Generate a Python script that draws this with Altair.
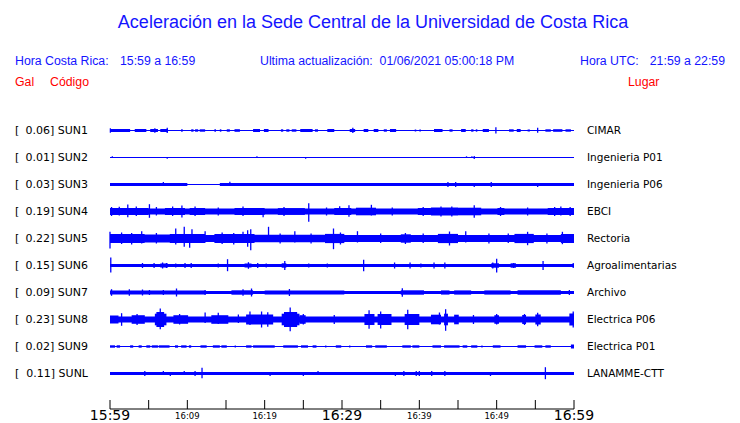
import altair as alt
import pandas as pd

# ---------------- data ----------------
stations = ["SUN1", "SUN2", "SUN3", "SUN4", "SUN5", "SUN6", "SUN7", "SUN8", "SUN9", "SUNL"]
peak_gal = [0.06, 0.01, 0.03, 0.19, 0.22, 0.15, 0.09, 0.23, 0.02, 0.11]
places = ["CIMAR", "Ingenieria P01", "Ingenieria P06", "EBCI", "Rectoria",
          "Agroalimentarias", "Archivo", "Electrica P06", "Electrica P01", "LANAMME-CTT"]

# background (quiet) half-amplitude of each trace, in trace units
base_amp = [0.6, 0.6, 0.4, 2.9, 3.4, 1.5, 1.6, 3.1, 0.6, 1.5]

# bursts: (start minute, end minute, half-amplitude)
bursts_sun1 = [(0.1, 2.6, 1.5), (3.2, 4.7, 1.5), (5.2, 6.2, 1.5), (6.5, 7.5, 1.5), (9.2, 9.4, 1.2),
               (10.5, 10.8, 1.2), (11.0, 11.4, 1.2), (11.6, 12.3, 1.2), (13.5, 13.7, 1.2), (14.2, 14.4, 1.2),
               (15.1, 15.5, 1.2), (16.1, 16.8, 1.3), (18.5, 19.4, 1.5), (19.9, 20.5, 1.5), (22.1, 22.4, 1.2),
               (22.8, 23.2, 1.2), (23.5, 24.1, 1.2), (24.6, 26.2, 1.5), (26.5, 26.9, 1.2), (28.1, 29.0, 1.5),
               (31.0, 31.7, 1.5), (32.8, 33.4, 1.5), (34.1, 34.7, 1.5), (35.4, 35.8, 1.2), (36.2, 37.0, 1.5),
               (39.4, 39.6, 1.0), (40.0, 40.2, 1.0), (41.9, 43.0, 1.5), (43.9, 44.3, 1.2), (45.4, 46.0, 1.5),
               (46.7, 47.0, 1.2), (47.3, 47.5, 1.2), (48.2, 49.0, 1.5), (51.6, 52.2, 1.2), (52.6, 53.1, 1.5),
               (54.0, 54.3, 1.0), (56.3, 57.0, 1.2), (57.3, 58.5, 1.3), (58.9, 59.6, 1.2)]
bursts_sun2 = []
bursts_sun3 = [(0.0, 10.0, 1.5), (14.2, 60.0, 1.5)]
bursts_sun4 = [(0.0, 5.0, 3.6), (7.1, 9.7, 3.6), (10.3, 12.3, 3.5), (16.1, 20.0, 3.5), (21.7, 25.2, 3.4),
               (29.0, 31.2, 3.5), (31.8, 34.4, 3.8), (39.8, 41.5, 3.5), (41.5, 45.0, 4.0), (45.0, 48.0, 3.8),
               (50.1, 51.0, 3.5), (56.6, 60.0, 3.5)]
bursts_sun5 = [(0.0, 4.5, 4.6), (4.5, 7.7, 4.0), (7.7, 12.3, 4.6), (13.5, 18.7, 4.4), (18.7, 27.8, 3.8),
               (27.8, 30.3, 4.6), (37.6, 38.9, 4.2), (42.4, 45.0, 4.6), (52.3, 54.8, 4.6), (58.3, 60.0, 4.5)]
bursts_sun6 = [(6.5, 7.5, 2.0), (17.4, 18.3, 2.0), (22.2, 22.8, 2.2), (49.3, 50.3, 2.2), (51.8, 52.5, 2.2)]
bursts_sun7 = [(0.0, 12.3, 2.1), (15.7, 18.5, 2.2), (20.0, 30.3, 2.1), (37.6, 40.6, 2.2), (42.8, 43.9, 2.1),
               (44.5, 46.7, 2.1), (48.4, 51.8, 2.1), (52.7, 58.3, 2.2)]
bursts_sun8 = [(0.0, 1.1, 4.0), (2.8, 4.5, 4.3), (5.8, 7.3, 5.8), (6.0, 7.0, 7.5), (8.2, 10.1, 4.3),
               (13.1, 15.3, 4.3), (17.6, 21.1, 5.0), (22.2, 24.5, 5.8), (22.5, 24.2, 7.5), (24.5, 25.3, 4.3),
               (32.9, 34.2, 5.5), (34.6, 36.4, 5.5), (38.1, 40.0, 5.5), (41.5, 42.8, 4.8), (43.2, 43.7, 5.8),
               (44.5, 45.1, 4.8), (49.7, 50.3, 4.3), (53.3, 53.8, 4.5), (55.0, 55.7, 5.0), (59.4, 60.0, 6.0)]
bursts_sun9 = [(0.0, 0.65, 1.2), (0.86, 1.3, 1.2), (2.6, 3.0, 1.2), (3.7, 4.1, 1.2), (4.7, 5.2, 1.2),
               (5.4, 6.2, 1.2), (6.3, 7.7, 1.2), (8.4, 8.8, 1.2), (9.2, 9.9, 1.2), (10.2, 10.5, 1.2),
               (11.7, 12.5, 1.2), (13.3, 14.2, 1.2), (14.4, 15.1, 1.2), (17.6, 18.3, 1.2), (18.5, 21.3, 1.2),
               (22.4, 24.3, 1.2), (24.7, 25.6, 1.2), (26.2, 26.7, 1.2), (29.2, 29.9, 1.2), (33.1, 33.9, 1.2),
               (34.3, 35.8, 1.2), (37.8, 38.9, 1.2), (39.1, 40.0, 1.2), (41.7, 42.8, 1.2), (43.2, 45.2, 1.2),
               (45.6, 46.2, 1.2), (46.7, 47.5, 1.2), (49.5, 50.5, 1.2), (52.7, 53.8, 1.2), (54.9, 55.9, 1.2),
               (56.3, 57.0, 1.2), (59.6, 60.0, 2.0)]
bursts_sunl = []

# spikes: (minute, amplitude above, amplitude below)
spikes_sun1 = [(0.05, 2.2, 2.2), (5.8, 2.2, 2.2), (7.4, 2.7, 2.5), (31.4, 2.7, 2.5), (49.9, 3.3, 3.0),
               (55.3, 2.7, 2.3)]
spikes_sun2 = [(0.3, 1.2, 0.0), (7.4, 0.0, 1.2), (19.0, 1.2, 0.0), (25.3, 0.0, 1.2), (46.1, 1.2, 0.0),
               (46.8, 1.2, 0.0), (47.1, 1.5, 1.5)]
spikes_sun3 = [(6.9, 2.5, 0.0), (15.5, 2.7, 0.0), (43.7, 2.5, 2.5), (44.7, 2.5, 2.5), (47.1, 0.0, 2.5),
               (49.3, 2.5, 2.5), (55.3, 0.0, 2.5)]
spikes_sun4 = [(0.2, 4.5, 4.5), (1.2, 4.8, 4.0), (2.3, 7.0, 5.7), (3.4, 5.0, 4.5), (5.1, 7.3, 6.3),
               (6.0, 4.5, 4.0), (8.1, 5.0, 4.5), (9.3, 6.0, 6.0), (11.0, 5.0, 4.5), (14.0, 4.0, 4.0),
               (17.2, 5.0, 4.5), (19.8, 3.5, 5.7), (22.5, 4.5, 4.5), (25.7, 8.3, 10.3), (28.0, 4.0, 4.0),
               (29.7, 5.3, 3.5), (30.9, 6.3, 5.3), (33.8, 6.7, 4.0), (36.5, 4.0, 4.0), (40.5, 4.5, 4.5),
               (42.8, 5.0, 5.0), (44.2, 5.0, 5.0), (47.1, 6.3, 6.3), (50.5, 4.5, 4.5), (54.0, 4.0, 4.0),
               (57.5, 4.5, 4.5), (58.3, 5.0, 4.0), (59.5, 4.5, 4.5)]
spikes_sun5 = [(0.0, 6.7, 10.0), (1.5, 6.0, 5.5), (2.8, 5.5, 6.0), (4.1, 7.3, 5.0), (6.0, 5.5, 5.0),
               (8.5, 10.0, 6.0), (9.6, 11.7, 8.3), (10.3, 3.0, 9.3), (10.6, 9.3, 3.0), (12.3, 7.3, 4.0),
               (14.5, 6.0, 5.5), (16.0, 5.5, 6.0), (17.2, 6.7, 4.0), (17.8, 8.3, 8.3), (18.2, 9.3, 11.7),
               (20.5, 11.7, 3.5), (22.0, 5.0, 5.0), (23.9, 7.3, 4.0), (26.0, 5.0, 5.0), (28.9, 10.0, 10.7),
               (29.8, 6.0, 6.0), (32.0, 7.3, 4.0), (35.0, 5.0, 4.5), (38.2, 5.5, 5.5), (40.5, 5.0, 4.5),
               (43.9, 7.0, 7.0), (46.0, 7.3, 4.0), (49.0, 5.0, 5.0), (51.5, 5.0, 4.5), (54.0, 6.7, 6.7),
               (56.5, 5.0, 5.0), (58.5, 6.7, 5.7)]
spikes_sun6 = [(0.1, 8.0, 7.0), (4.2, 2.5, 2.5), (5.7, 2.5, 2.5), (6.8, 3.0, 3.0), (7.3, 2.5, 2.5),
               (8.5, 2.0, 2.0), (9.7, 2.5, 2.5), (10.5, 2.5, 2.5), (14.0, 2.0, 2.0), (15.2, 6.3, 5.7),
               (17.9, 3.3, 3.3), (19.1, 2.5, 2.5), (20.2, 2.0, 2.0), (22.6, 4.5, 4.5), (25.7, 2.0, 2.0),
               (28.1, 2.0, 2.0), (32.8, 5.7, 5.7), (36.8, 3.0, 3.0), (38.8, 3.0, 3.0), (40.2, 2.0, 2.0),
               (41.9, 3.0, 3.0), (43.3, 3.0, 3.0), (49.5, 3.0, 3.0), (50.0, 6.7, 7.0), (52.2, 2.5, 2.5),
               (56.0, 4.5, 4.5), (59.9, 2.5, 2.5)]
spikes_sun7 = [(0.2, 3.3, 3.3), (2.5, 3.3, 3.3), (4.2, 3.0, 3.0), (5.1, 2.5, 2.5), (6.9, 2.5, 2.5),
               (8.6, 4.0, 4.0), (12.3, 2.5, 2.5), (17.2, 3.3, 3.3), (18.3, 4.0, 4.0), (23.2, 3.5, 3.5),
               (37.8, 4.3, 4.3), (59.4, 2.5, 2.5)]
spikes_sun8 = [(1.5, 6.3, 6.3), (3.5, 5.5, 5.5), (6.5, 11.0, 9.7), (9.0, 5.5, 5.0), (12.3, 7.0, 3.5),
               (14.0, 6.7, 4.5), (16.6, 5.0, 3.5), (18.1, 8.0, 5.5), (19.6, 8.0, 8.0), (20.4, 7.3, 7.3),
               (23.3, 12.0, 11.7), (25.0, 5.5, 5.0), (29.0, 4.5, 4.5), (33.5, 9.3, 9.3), (35.0, 8.0, 9.0),
               (38.5, 9.7, 9.7), (42.6, 7.0, 5.0), (43.4, 10.3, 11.3), (47.0, 4.5, 4.5), (50.0, 5.5, 5.0),
               (53.6, 5.5, 5.5), (55.3, 6.7, 6.7), (59.9, 8.0, 8.0)]
spikes_sun9 = [(16.2, 1.0, 1.0), (27.9, 1.0, 1.0), (31.0, 1.0, 1.0), (48.1, 1.0, 1.0)]
spikes_sunl = [(4.5, 2.5, 2.5), (6.9, 2.5, 0.0), (7.8, 0.0, 2.5), (9.6, 2.5, 0.0), (11.0, 2.5, 2.5),
               (11.9, 5.7, 4.7), (20.7, 0.0, 2.5), (25.0, 0.0, 2.5), (26.9, 2.5, 0.0), (36.9, 0.0, 2.5),
               (38.0, 2.5, 2.5), (39.6, 2.5, 2.5), (40.0, 2.5, 2.5), (41.6, 2.5, 2.5), (43.3, 2.5, 2.5),
               (49.2, 0.0, 2.5), (56.3, 6.3, 5.7)]

tick_minutes = list(range(0, 61, 5))
big_label_minutes = [0, 30, 60]
big_labels = ["15:59", "16:29", "16:59"]
small_label_minutes = [10, 20, 40, 50]
small_labels = ["16:09", "16:19", "16:39", "16:49"]

all_bursts = [bursts_sun1, bursts_sun2, bursts_sun3, bursts_sun4, bursts_sun5,
              bursts_sun6, bursts_sun7, bursts_sun8, bursts_sun9, bursts_sunl]
all_spikes = [spikes_sun1, spikes_sun2, spikes_sun3, spikes_sun4, spikes_sun5,
              spikes_sun6, spikes_sun7, spikes_sun8, spikes_sun9, spikes_sunl]

# ---------------- tables ----------------
ROW_UNITS = 27.0  # trace units per row spacing
rect_rows = []
spike_rows = []
for i, st in enumerate(stations):
    rect_rows.append(dict(row=i, t0=0.0, t1=60.0, ya=i - base_amp[i] / ROW_UNITS, yb=i + base_amp[i] / ROW_UNITS))
    for a, b, h in all_bursts[i]:
        rect_rows.append(dict(row=i, t0=a, t1=b, ya=i - h / ROW_UNITS, yb=i + h / ROW_UNITS))
    for t, u, d in all_spikes[i]:
        spike_rows.append(dict(row=i, t=t, ya=i - u / ROW_UNITS, yb=i + d / ROW_UNITS))
rect_df = pd.DataFrame(rect_rows)
spike_df = pd.DataFrame(spike_rows)

NB = "\u00a0"
st_df = pd.DataFrame({
    "row": list(range(len(stations))),
    "br": ["["] * len(stations),
    "left": [f"{g:.2f}]{NB}{s}" for g, s in zip(peak_gal, stations)],
    "place": places,
})
tick_df = pd.DataFrame({"t": tick_minutes})
axis_df = pd.DataFrame({"t0": [min(tick_minutes)], "t1": [max(tick_minutes)]})
big_df = pd.DataFrame({"t": big_label_minutes, "label": big_labels})
small_df = pd.DataFrame({"t": small_label_minutes, "label": small_labels})

# ---------------- scales / layout ----------------
XS = alt.Scale(domain=[0, 60], range=[102, 566], nice=False, zero=False)
YS = alt.Scale(domain=[0, 9], range=[122.5, 365.5], nice=False, zero=False)
BLUE = "#0000ff"
TXT_BLUE = "#1414ff"
RED = "#ff0000"
HFONT = "Liberation Sans"
LFONT = "DejaVu Sans"

rects = alt.Chart(rect_df).mark_rect(color=BLUE).encode(
    x=alt.X("t0:Q", scale=XS, axis=None), x2="t1:Q",
    y=alt.Y("ya:Q", scale=YS, axis=None), y2="yb:Q")

spikes = alt.Chart(spike_df).mark_rule(color=BLUE, strokeWidth=1.3).encode(
    x=alt.X("t:Q", scale=XS, axis=None),
    y=alt.Y("ya:Q", scale=YS, axis=None), y2="yb:Q")

bracket = alt.Chart(st_df).mark_text(align="left", baseline="middle", font=LFONT,
                                     fontSize=11, color="black").encode(
    x=alt.value(7), y=alt.Y("row:Q", scale=YS, axis=None), text="br:N")
left_lab = alt.Chart(st_df).mark_text(align="right", baseline="middle", font=LFONT,
                                      fontSize=11, color="black").encode(
    x=alt.value(80), y=alt.Y("row:Q", scale=YS, axis=None), text="left:N")
right_lab = alt.Chart(st_df).mark_text(align="left", baseline="middle", font=LFONT,
                                       fontSize=10.5, color="black").encode(
    x=alt.value(579), y=alt.Y("row:Q", scale=YS, axis=None), text="place:N")

axis_line = alt.Chart(axis_df).mark_rule(color="black", strokeWidth=1).encode(
    x=alt.X("t0:Q", scale=XS, axis=None), x2="t1:Q", y=alt.value(401))
ticks = alt.Chart(tick_df).mark_rule(color="black", strokeWidth=1).encode(
    x=alt.X("t:Q", scale=XS, axis=None), y=alt.value(392), y2=alt.value(401))
big_lab = alt.Chart(big_df).mark_text(
    baseline="middle", font=LFONT, fontSize=14, color="black").encode(
    x=alt.X("t:Q", scale=XS, axis=None), y=alt.value(408), text="label:N")
small_lab = alt.Chart(small_df).mark_text(
    baseline="middle", font=LFONT, fontSize=8.5, color="black").encode(
    x=alt.X("t:Q", scale=XS, axis=None), y=alt.value(407.5), text="label:N")


def header(txt, x, y, size=12.3, color=TXT_BLUE, align="left"):
    return alt.Chart(pd.DataFrame({"s": [txt]})).mark_text(
        align=align, baseline="middle", font=HFONT, fontSize=size, color=color).encode(
        x=alt.value(x), y=alt.value(y), text="s:N")


headers = [
    header("Aceleración en la Sede Central de la Universidad de Costa Rica", 365, 15, size=18, align="center"),
    header("Hora Costa Rica:", 7, 53),
    header("15:59 a 16:59", 112, 53),
    header(f"Ultima actualización:{NB}{NB}01/06/2021 05:00:18 PM", 252, 53),
    header("Hora UTC:", 572, 53),
    header("21:59 a 22:59", 717, 53, align="right"),
    header("Gal", 7, 74, color=RED),
    header("Código", 42, 74, color=RED),
    header("Lugar", 620, 74, color=RED),
]

chart = alt.layer(rects, spikes, bracket, left_lab, right_lab, axis_line, ticks,
                  big_lab, small_lab, *headers).properties(
    width=724, height=414, padding=0
).configure_view(stroke=None)

chart.save("out.html", embed_options={"renderer": "svg", "actions": False})
